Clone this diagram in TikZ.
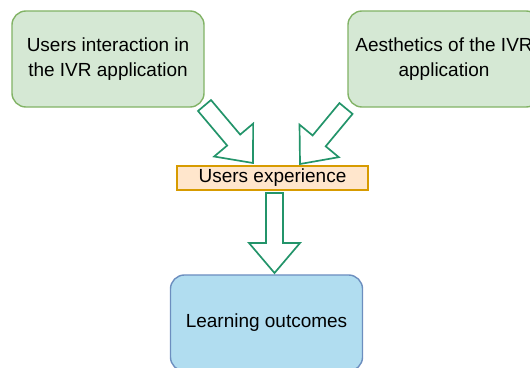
\documentclass[tikz,border=0pt]{standalone}
\usepackage{fontspec}
\setmainfont{Liberation Sans}
\usetikzlibrary{calc}
\definecolor{boxgreen}{HTML}{D5E8D4}
\definecolor{linegreen}{HTML}{82B366}
\definecolor{boxorange}{HTML}{FFE6CC}
\definecolor{lineorange}{HTML}{D79B00}
\definecolor{boxblue}{HTML}{B1DDF0}
\definecolor{lineblue}{HTML}{6C8EBF}
\definecolor{arrowgreen}{HTML}{23946A}
% block arrow from #1 (tail) to #2 (tip)
\newcommand{\blockarrow}[2]{%
  \coordinate (#1-base) at ($(#2)!0.75cm!(#1)$);
  \draw[fat] ($(#1)!0.2125cm!90:(#2)$) -- ($(#1-base)!0.2125cm!90:(#2)$)
    -- ($(#1-base)!0.6375cm!90:(#2)$) -- (#2)
    -- ($(#1-base)!0.6375cm!-90:(#2)$) -- ($(#1-base)!0.2125cm!-90:(#2)$)
    -- ($(#1)!0.2125cm!-90:(#2)$) -- cycle;}
\begin{document}
\begin{tikzpicture}[x=0.025cm,y=-0.025cm,
    font=\fontsize{13.5}{17.6}\selectfont,
    factor/.style={draw=linegreen,fill=boxgreen,line width=1pt,rounded corners=0.35cm,
      minimum width=4.8cm,minimum height=2.4cm,align=center,inner sep=2pt},
    middle/.style={draw=lineorange,fill=boxorange,line width=1pt,
      minimum width=4.775cm,minimum height=0.6cm,inner sep=0pt},
    result/.style={draw=lineblue,fill=boxblue,line width=1pt,rounded corners=0.35cm,
      minimum width=4.8cm,minimum height=2.4cm,align=center},
    fat/.style={draw=arrowgreen,fill=white,line width=1.2pt}]
  \useasboundingbox (0,0) rectangle (530,367);
  \clip (0,0) rectangle (530,367);
  \node[factor] (interaction) at (108,59) {Users interaction in\\the IVR application};
  \node[factor] (aesthetics) at (444,59) {Aesthetics of the IVR\\application};
  \node[middle] (experience) at (272.5,178) {Users experience};
  \node[result] (outcomes) at (266.5,323) {Learning outcomes};
  % arrow ends
  \coordinate (tailL) at (204.5,105.5);
  \coordinate (tipL) at (253,163);
  \coordinate (tailR) at (346,108.5);
  \coordinate (tipR) at (300,164);
  \coordinate (tailD) at (274.5,193);
  \coordinate (tipD) at (274.5,273);
  \blockarrow{tailL}{tipL}
  \blockarrow{tailR}{tipR}
  \blockarrow{tailD}{tipD}
\end{tikzpicture}
\end{document}
